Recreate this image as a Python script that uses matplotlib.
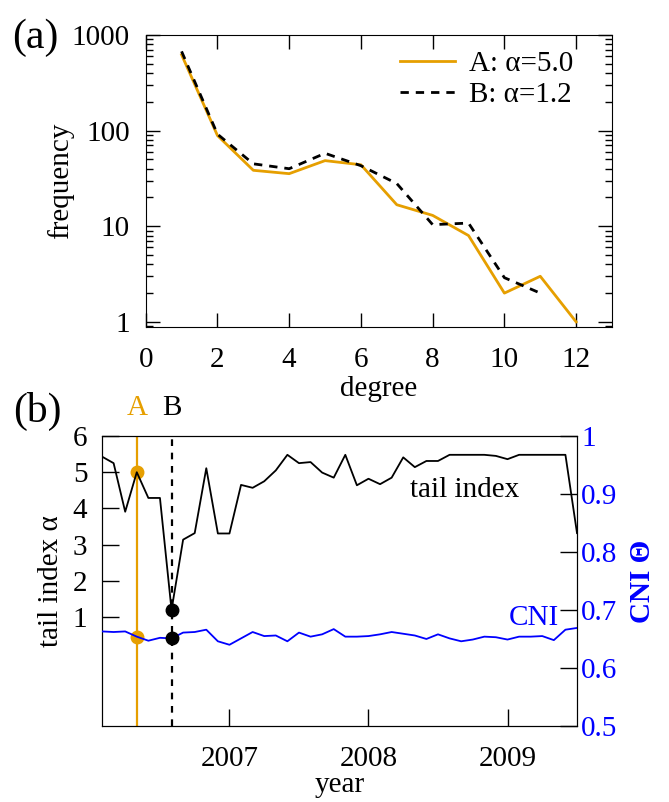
import numpy as np
import matplotlib
matplotlib.use("Agg")
import matplotlib.pyplot as plt
import matplotlib.transforms as mtransforms

plt.rcParams['font.family'] = ['Liberation Serif', 'DejaVu Serif']
plt.rcParams['font.size'] = 21

ORANGE = "#E69F00"

# ── panel (a): degree distributions ──
degree_a = [1, 2, 3, 4, 5, 6, 7, 8, 9, 10, 11, 12]
freq_a = [623, 89, 38.5, 35.5, 48.6, 44, 16.8, 13, 8, 2, 3, 1]
degree_b = [1, 2, 3, 4, 5, 6, 7, 8, 9, 10, 11]
freq_b = [675, 92, 45, 40, 58, 43, 28, 10.4, 10.8, 2.9, 2.0]

# ── panel (b): monthly tail index and CNI, Feb 2006 .. Jul 2009 ──
tail_index = [5.43, 5.25, 3.91, 5.0, 4.29, 4.29, 1.2, 3.14, 3.32, 5.11,
              3.31, 3.31, 4.65, 4.57, 4.75, 5.05, 5.48, 5.25, 5.28, 4.99,
              4.85, 5.48, 4.64, 4.82, 4.67, 4.85, 5.41, 5.14, 5.31, 5.31,
              5.48, 5.48, 5.48, 5.48, 5.45, 5.36, 5.48, 5.48, 5.48, 5.48,
              5.48, 3.32]
cni = [0.663, 0.662, 0.663, 0.654, 0.647, 0.652, 0.651, 0.661, 0.662, 0.666,
       0.646, 0.640, 0.651, 0.662, 0.655, 0.656, 0.646, 0.661, 0.654, 0.658,
       0.667, 0.654, 0.654, 0.655, 0.658, 0.662, 0.659, 0.656, 0.650, 0.658,
       0.651, 0.646, 0.649, 0.654, 0.653, 0.649, 0.654, 0.654, 0.655, 0.648,
       0.666, 0.669]
years = [2006 + (m + 1) / 12 for m in range(len(tail_index))]
idx_A, idx_B = 3, 6
year_ticks = [2007, 2008, 2009]

fig = plt.figure(figsize=(6.69, 8.02), dpi=100)

# ──────────────── (a) ────────────────
ax1 = fig.add_axes([0.2178, 0.5923, 0.697, 0.364])
ax1.plot(degree_a, freq_a, color=ORANGE, lw=2.0, label="A: α=5.0")
ax1.plot(degree_b, freq_b, color="black", lw=2.0, ls=(0, (3, 2.5)),
         label="B: α=1.2")
ax1.set_yscale("log")
ax1.set_xlim(0, 13)
ax1.set_ylim(0.885, 1000)
ax1.set_xticks([0, 2, 4, 6, 8, 10, 12])
ax1.set_yticks([1, 10, 100, 1000])
ax1.set_yticklabels(["1", "10", "100", "1000"])
ax1.tick_params(which="major", direction="in", length=10, top=True,
                right=True, width=1)
ax1.tick_params(which="minor", direction="in", length=5, top=True,
                right=True, width=1)
ax1.tick_params(axis="x", which="minor", bottom=False, top=False)
ax1.tick_params(axis="x", which="major", pad=14.5)
ax1.tick_params(axis="y", which="major", pad=11.5)
ax1.set_xlabel("degree", labelpad=2)
ax1.set_ylabel("frequency", labelpad=-2)
ax1.legend(loc="upper right", bbox_to_anchor=(0.942, 0.986),
           borderaxespad=0, frameon=False, handlelength=1.9,
           handletextpad=0.48, labelspacing=0.15)
fig.text(0.018, 0.953, "(a)", fontsize=30, va="center", ha="left")

# ──────────────── (b) ────────────────
ax2 = fig.add_axes([0.1525, 0.0948, 0.710, 0.3616])
ax3 = ax2.twinx()

ax2.axvline(years[idx_A], color=ORANGE, lw=1.6, zorder=1)
ax2.axvline(years[idx_B], color="black", lw=1.6, ls=(0, (3, 3)), zorder=1)
ax2.plot(years[idx_A], tail_index[idx_A], "o", color=ORANGE, ms=9, zorder=2)
ax2.plot(years, tail_index, color="black", lw=1.3, zorder=3)
ax2.plot(years[idx_B], tail_index[idx_B], "o", color="black", ms=9, zorder=4)

ax3.plot(years[idx_A], cni[idx_A], "o", color=ORANGE, ms=9, zorder=2)
ax3.plot(years, cni, color="blue", lw=1.3, zorder=3)
ax3.plot(years[idx_B], cni[idx_B], "o", color="black", ms=9, zorder=4)

ax2.set_xlim(years[0], 2009.5)
ax2.set_ylim(-2, 6)
ax2.set_yticks([1, 2, 3, 4, 5, 6])
ax2.set_xticks(year_ticks)
ax2.set_xticklabels([str(y) for y in year_ticks])
ax2.tick_params(direction="in", length=12, top=False, right=False, width=1)
ax2.tick_params(axis="x", pad=14.5)
ax2.tick_params(axis="y", pad=10.5)
ax2.set_xlabel("year", labelpad=0)
ax2.set_ylabel("tail index α", labelpad=6)

ax3.set_ylim(0.5, 1.0)
ax3.set_yticks([0.5, 0.6, 0.7, 0.8, 0.9, 1.0])
ax3.set_yticklabels(["0.5", "0.6", "0.7", "0.8", "0.9", "1"])
ax3.tick_params(axis="y", direction="in", length=12, width=1,
                labelcolor="blue", pad=3)
ax3.set_ylabel("CNI Θ", color="blue", fontweight="bold", labelpad=8)

ax2.text(2008.3, 4.5, "tail index", ha="left", va="center")
ax3.text(2009.37, 0.686, "CNI", ha="right", va="center", color="blue")

trans = mtransforms.blended_transform_factory(ax2.transData, ax2.transAxes)
ax2.text(years[idx_A], 1.097, "A", color=ORANGE, ha="center", va="center",
         transform=trans, clip_on=False)
ax2.text(years[idx_B], 1.097, "B", color="black", ha="center", va="center",
         transform=trans, clip_on=False)
fig.text(0.02, 0.4875, "(b)", fontsize=30, va="center", ha="left")

fig.savefig("out.png", dpi=100)
